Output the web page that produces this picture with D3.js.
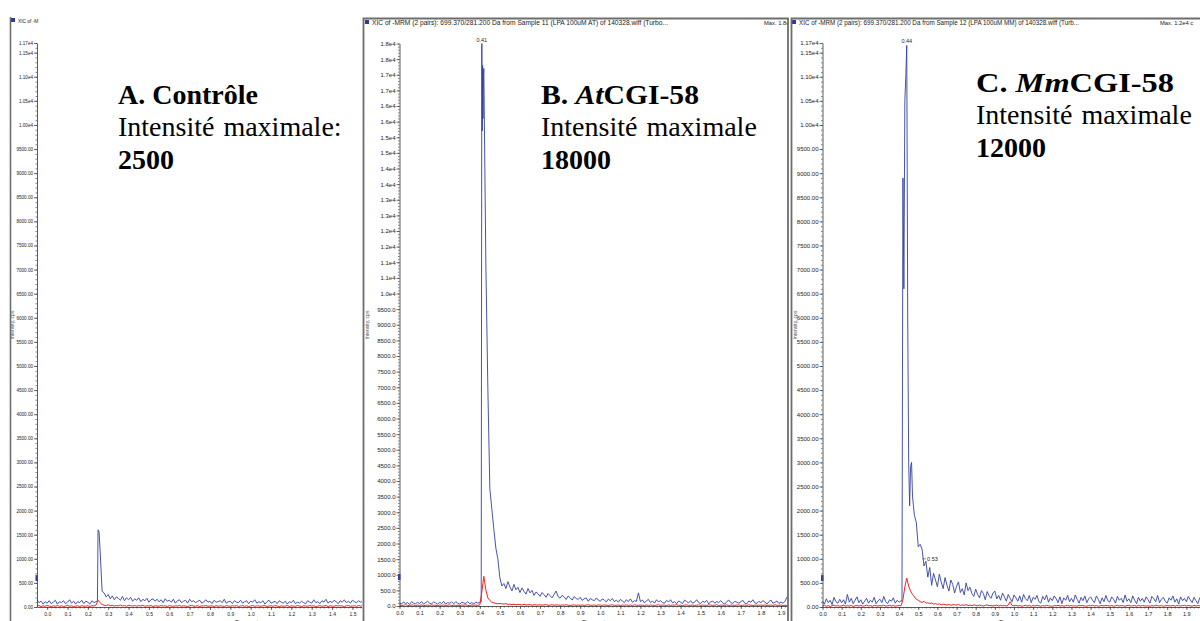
<!DOCTYPE html>
<html><head><meta charset="utf-8">
<script src="https://cdn.jsdelivr.net/npm/d3@7"></script>
<style>body{margin:0;background:#fff;} svg{display:block;}</style>
</head><body>
<svg id="chart" width="1200" height="621"></svg>
<script>
// ---------------- DATA ----------------
const STEP = 0.01; // sampling step (min)

// Panel A (Contrôle) – starts at -0.05 min
const blueA = [150,90,120,60,110,80,130,70,100,140,
  60,110,90,130,70,100,150,80,120,60,
  110,90,140,70,120,100,60,130,90,110,
  1600,1180,330,290,210,260,170,230,150,210,
  180,140,220,130,190,150,200,120,170,140,
  190,110,160,130,180,100,150,170,120,160,
  110,150,90,170,120,140,100,160,80,130,
  150,90,120,140,80,160,110,130,90,120,
  140,80,110,150,100,120,70,140,100,110,
  130,90,160,80,110,120,70,130,100,90,
  140,80,110,130,70,120,100,150,80,110,
  90,130,60,110,140,80,100,120,70,130,
  100,80,120,60,110,90,140,70,100,80,
  120,90,70,130,100,80,150,90,110,70,
  130,100,160,80,120,90,140,110,70,130,
  100,150,90,120,80,140,110,90,130,100,120];
const blueAPeak = [[0.247,130],[0.255,1560]];
const redA = [20,30,10,25,15,30,20,10,25,15,
  30,15,25,10,20,35,15,25,10,20,
  25,10,30,15,20,25,10,30,20,40,
  140,90,50,40,30,45,25,35,20,30,
  25,40,20,30,15,35,25,20,30,15,
  30,20,35,15,25,20,30,10,25,20,
  15,30,20,25,10,30,20,15,25,20,
  30,15,25,20,10,25,35,15,20,25,
  10,25,20,30,15,20,25,10,30,15,
  25,20,10,30,20,15,25,20,30,10,
  20,30,15,25,10,20,30,15,25,20,
  15,25,30,10,20,25,15,30,20,10,
  25,15,20,30,10,25,20,15,30,20,
  10,25,20,15,30,20,25,10,20,30,
  15,20,30,10,25,20,15,30,20,25,
  20,10,25,30,15,20,25,15,30,20,25];

// Panel B (AtCGI-58) – starts at 0.00 min
const blueB = [100,60,130,80,110,50,140,90,70,120,
  80,140,60,110,150,90,70,130,100,60,
  120,80,150,60,110,90,130,70,140,90,
  60,120,100,80,140,70,110,60,130,90,
  120,18000,17200,11000,7000,3750,3100,2450,1850,1500,
  900,640,720,560,780,610,480,690,520,600,
  430,580,470,380,560,420,500,340,450,390,
  310,430,360,280,400,330,260,370,480,300,
  250,340,290,210,320,260,190,300,240,210,
  280,180,230,260,150,240,200,170,260,190,
  150,230,190,130,220,170,240,140,190,120,
  210,160,110,200,140,230,120,170,150,420,
  140,190,100,170,210,110,160,90,200,130,
  170,110,90,180,130,200,100,140,70,160,
  120,80,190,140,100,170,90,130,200,110,
  80,150,120,180,70,130,160,90,140,110,
  170,100,60,140,190,110,80,150,120,90,
  140,180,90,70,160,120,200,100,80,150,
  110,170,130,60,140,190,90,120,160,80,
  130,90,150,290];
const blueBPeak = [[0.407,130],[0.412,15200],[0.414,17300],[0.416,15600],[0.418,16900]];
const redB = [30,15,25,40,20,10,35,25,15,30,
  20,35,10,25,30,15,40,20,25,10,
  30,20,35,15,25,40,10,30,20,25,
  15,30,25,40,20,10,35,25,30,20,
  35,450,950,520,260,180,120,100,80,70,
  80,70,60,75,50,60,45,55,40,50,
  45,35,50,30,40,45,25,40,35,30,
  40,25,35,45,20,30,40,25,35,30,
  20,35,30,40,25,15,30,35,20,30,
  25,35,15,30,40,20,25,30,15,35,
  30,20,35,25,15,30,40,20,25,30,
  15,30,25,35,20,30,15,40,25,20,
  30,25,15,35,20,30,25,15,30,40,
  20,30,25,15,35,20,30,25,40,20,
  25,15,30,35,20,25,30,15,25,35,
  20,30,25,15,35,30,20,25,40,15,
  30,25,20,35,15,30,25,20,30,35,
  15,25,30,20,35,25,15,30,20,25,
  30,20,35,15,25,30,20,40,25,20,
  30,15,25,20];

// Panel C (MmCGI-58) – starts at 0.00 min
const blueC = [120,60,170,90,140,50,200,110,80,160,
  90,150,60,260,100,180,70,140,210,90,
  150,60,120,180,80,140,100,200,70,130,
  160,90,220,110,70,150,120,190,80,140,
  100,130,8900,10500,11650,3000,2900,2300,1900,1750,
  1250,1300,1200,850,950,620,820,450,700,560,
  420,680,520,380,610,450,330,560,470,290,
  430,520,300,380,250,500,340,410,280,220,
  370,260,190,340,280,150,320,230,180,290,
  330,170,240,140,290,210,120,260,180,110,
  250,190,120,230,100,260,170,130,240,90,
  200,160,240,110,80,220,150,250,100,190,
  130,230,170,90,210,70,190,140,240,110,
  180,100,250,160,80,200,130,230,90,170,
  210,140,90,230,160,70,190,110,240,130,
  100,210,160,80,220,140,180,90,250,120,
  170,90,230,140,70,200,120,180,100,210,
  150,80,220,170,110,240,90,160,200,120,
  80,190,140,230,100,170,60,210,130,180,
  110,220,150,90,200,130,70,190,160,100,140];
const blueCPeak = [[0.415,120],[0.425,6600],[0.435,11000],[0.445,6000],[0.455,2100],[0.465,3000],[0.475,2100]];
const redC = [20,35,15,30,10,25,40,20,30,15,
  25,40,15,30,20,35,10,25,30,20,
  35,15,25,40,20,30,10,35,25,20,
  30,20,40,15,25,35,20,30,15,25,
  30,25,150,420,600,430,330,260,210,160,
  140,110,95,120,80,90,70,85,60,70,
  55,65,45,60,50,40,55,35,50,45,
  40,55,30,45,35,50,30,40,25,45,
  35,25,40,30,20,35,45,25,30,20,
  30,40,20,35,25,30,20,40,110,30,
  25,35,20,30,15,25,35,20,30,15,
  30,20,35,25,15,30,20,35,25,20,
  15,30,25,35,20,30,15,25,35,20,
  30,20,25,15,35,25,30,20,15,30,
  25,35,20,30,15,25,30,20,35,25,
  20,30,15,25,35,20,30,25,15,30,
  35,20,25,30,15,35,20,30,25,20,
  25,15,30,20,35,25,20,30,15,25,
  30,25,20,35,15,30,25,20,30,35,
  20,30,25,15,35,20,30,25,20,30,25];

// Tick values
const yTicksAC = [0,500,1000,1500,2000,2500,3000,3500,4000,4500,5000,5500,6000,6500,7000,7500,8000,8500,9000,9500,10000,10500,11000,11500,11700];
const yTicksB = [0,500,1000,1500,2000,2500,3000,3500,4000,4500,5000,5500,6000,6500,7000,7500,8000,8500,9000,9500,10000,10500,11000,11500,12000,12500,13000,13500,14000,14500,15000,15500,16000,16500,17000,17500,18000];
const xTicksA = [0,0.1,0.2,0.3,0.4,0.5,0.6,0.7,0.8,0.9,1.0,1.1,1.2,1.3,1.4,1.5,1.6];
const xTicksB = [0,0.1,0.2,0.3,0.4,0.5,0.6,0.7,0.8,0.9,1.0,1.1,1.2,1.3,1.4,1.5,1.6,1.7,1.8,1.9];
const xTicksC = [0,0.1,0.2,0.3,0.4,0.5,0.6,0.7,0.8,0.9,1.0,1.1,1.2,1.3,1.4,1.5,1.6,1.7,1.8,1.9,2.0];

// Texts
const headerB = "XIC of -MRM (2 pairs): 699.370/281.200 Da  from Sample 11 (LPA 100uM AT) of 140328.wiff (Turbo...";
const headerC = "XIC of -MRM (2 pairs): 699.370/281.200 Da  from Sample 12 (LPA 100uM MM) of 140328.wiff (Turb...";
const headerA = "XIC of -M";

// ---------------- DRAW ----------------
const svg = d3.select("#chart");
const BLUE = "#34409e", RED = "#f22424", AXIS = "#333";
const SANS = "'Liberation Sans', Arial, sans-serif";
const SERIF = "'Liberation Serif', 'Times New Roman', serif";

const fmtAC = v => v >= 10000 ? v.toExponential(2).replace("e+", "e") : v.toFixed(2);
const fmtB = v => v >= 10000 ? v.toExponential(1).replace("e+", "e") : v.toFixed(1);

function toPoints(vals, t0, extra) {
  return vals.map((v, i) => [t0 + i * STEP, v]).concat(extra).sort((a, b) => a[0] - b[0]);
}

function panel(cfg, idx) {
  const cid = "clip" + idx;
  svg.append("clipPath").attr("id", cid).append("rect")
    .attr("x", cfg.clip[0]).attr("y", cfg.clip[1]).attr("width", cfg.clip[2]).attr("height", cfg.clip[3]);
  const g = svg.append("g").attr("clip-path", `url(#${cid})`);
  g.append("rect").attr("x", cfg.clip[0]).attr("y", cfg.clip[1]).attr("width", cfg.clip[2]).attr("height", cfg.clip[3]).attr("fill", "#fff");

  const x = d3.scaleLinear().domain(cfg.xDomain).range(cfg.xRange);
  const y = d3.scaleLinear().domain(cfg.yDomain).range(cfg.yRange);
  const line = d3.line().x(d => x(d[0])).y(d => y(d[1]));

  const plot = g.append("g");
  plot.append("path").datum(toPoints(cfg.blue, cfg.t0, cfg.bluePeak))
    .attr("d", line).attr("fill", "none").attr("stroke", BLUE).attr("stroke-width", 0.9).attr("stroke-linejoin", "round");
  plot.append("path").datum(toPoints(cfg.red, cfg.t0, []))
    .attr("d", line).attr("fill", "none").attr("stroke", RED).attr("stroke-width", 1).attr("stroke-linejoin", "round");

  // y axis minor
  const yMinor = d3.range(0, cfg.yDomain[1] + 1, 100);
  g.append("g").attr("transform", `translate(${cfg.xRange[0]},0)`)
    .call(d3.axisLeft(y).tickValues(yMinor).tickSize(1.5).tickFormat(""))
    .call(a => a.select(".domain").remove())
    .call(a => a.selectAll("line").attr("stroke", AXIS).attr("stroke-width", 0.6));
  // y axis major
  const ya = g.append("g").attr("transform", `translate(${cfg.xRange[0]},0)`)
    .call(d3.axisLeft(y).tickValues(cfg.yTicks).tickFormat(cfg.yFmt).tickSize(3).tickSizeOuter(0).tickPadding(1));
  ya.select(".domain").attr("stroke", AXIS).attr("stroke-width", 0.8);
  ya.selectAll("line").attr("stroke", AXIS).attr("stroke-width", 0.7);
  ya.selectAll("text").attr("font-family", SANS).attr("font-size", cfg.yFont).attr("fill", "#222");

  // x axis minor
  const xMinor = d3.range(0, cfg.xDomain[1] + 0.001, 0.02);
  g.append("g").attr("transform", `translate(0,${cfg.yRange[0]})`)
    .call(d3.axisBottom(x).tickValues(xMinor).tickSize(1.5).tickFormat(""))
    .call(a => a.select(".domain").remove())
    .call(a => a.selectAll("line").attr("stroke", AXIS).attr("stroke-width", 0.6));
  const xa = g.append("g").attr("transform", `translate(0,${cfg.yRange[0]})`)
    .call(d3.axisBottom(x).tickValues(cfg.xTicks).tickFormat(d3.format(".1f")).tickSize(3).tickSizeOuter(0).tickPadding(2));
  xa.select(".domain").attr("stroke", AXIS).attr("stroke-width", 0.8);
  xa.selectAll("line").attr("stroke", AXIS).attr("stroke-width", 0.7);
  xa.selectAll("text").attr("font-family", SANS).attr("font-size", cfg.xFont).attr("fill", "#222");

  // blue marker on y axis
  g.append("rect").attr("x", cfg.xRange[0] - 1.5).attr("y", y(cfg.marker) - 3).attr("width", 2.5).attr("height", 6).attr("fill", BLUE);

  // axis titles
  g.append("text").attr("x", cfg.timeX).attr("y", 624).attr("text-anchor", "middle")
    .attr("font-family", SANS).attr("font-size", 6).attr("fill", "#333").text("Time, min");
  g.append("text").attr("transform", `translate(${cfg.intX},325) rotate(-90)`).attr("text-anchor", "middle")
    .attr("font-family", SANS).attr("font-size", 5).attr("fill", "#555").text("Intensity, cps");

  // header
  g.append("rect").attr("x", cfg.headX - 7).attr("y", cfg.headY - 4.5).attr("width", 4).attr("height", 4).attr("fill", "#2a3aa0");
  const ht = g.append("text").attr("x", cfg.headX).attr("y", cfg.headY).attr("font-family", SANS).attr("font-size", cfg.headFont)
    .attr("fill", "#222").text(cfg.header);
  if (cfg.headLen) ht.attr("textLength", cfg.headLen).attr("lengthAdjust", "spacingAndGlyphs");
  if (cfg.maxText) {
    g.append("text").attr("x", cfg.maxX).attr("y", cfg.headY).attr("font-family", SANS).attr("font-size", 5.8)
      .attr("fill", "#222").text(cfg.maxText);
  }
  // peak labels
  (cfg.peakLabels || []).forEach(p => {
    g.append("text").attr("x", x(p.t) + (p.dx || 0)).attr("y", y(p.v) + (p.dy || 0)).attr("text-anchor", p.anchor || "middle")
      .attr("font-family", SANS).attr("font-size", 5.5).attr("fill", "#222").text(p.label);
    if (p.leader) {
      g.append("line").attr("x1", x(p.t)).attr("x2", x(p.t) + p.dx - 1).attr("y1", y(p.v)).attr("y2", y(p.v) + p.dy - 2)
        .attr("stroke", "#444").attr("stroke-width", 0.6);
    }
  });
  return g;
}

panel({
  clip: [10, 17, 352, 604], xDomain: [-0.05, 1.547], xRange: [37, 362], yDomain: [0, 11700], yRange: [607, 43],
  t0: -0.05, blue: blueA, bluePeak: blueAPeak, red: redA,
  yTicks: yTicksAC, yFmt: fmtAC, yFont: 4.6, xTicks: xTicksA, xFont: 5,
  marker: 600, timeX: 248, intX: 14, headX: 18, headY: 22.5, headFont: 4.8, header: headerA
}, 0);

panel({
  clip: [363, 18, 425, 603], xDomain: [0, 1.93], xRange: [399.5, 787], yDomain: [0, 18000], yRange: [606, 43.5],
  t0: 0, blue: blueB, bluePeak: blueBPeak, red: redB,
  yTicks: yTicksB, yFmt: fmtB, yFont: 6, xTicks: xTicksB, xFont: 5.5,
  marker: 930, timeX: 595, intX: 369, headX: 372, headY: 24.5, headFont: 6.3, header: headerB, headLen: 296,
  maxText: "Max. 1.8e", maxX: 764,
  peakLabels: [{t: 0.41, v: 18000, label: "0.41", dy: -2}]
}, 1);

panel({
  clip: [791, 18, 409, 603], xDomain: [0, 2.0], xRange: [822.5, 1205.5], yDomain: [0, 11700], yRange: [607, 43],
  t0: 0, blue: blueC, bluePeak: blueCPeak, red: redC,
  yTicks: yTicksAC, yFmt: fmtAC, yFont: 6, xTicks: xTicksC, xFont: 5.5,
  marker: 600, timeX: 1012, intX: 797, headX: 799, headY: 24.5, headFont: 6.3, header: headerC, headLen: 280,
  maxText: "Max. 1.2e4 c", maxX: 1160,
  peakLabels: [{t: 0.44, v: 11650, label: "0.44", dy: -2},
               {t: 0.52, v: 1000, label: "0.53", dx: 5, dy: 2, anchor: "start", leader: true}]
}, 2);

// frames
const FR = "#6e6e6e";
svg.append("line").attr("x1", 10.5).attr("x2", 10.5).attr("y1", 17).attr("y2", 621).attr("stroke", FR).attr("stroke-width", 1.6);
svg.append("path").attr("d", "M363.5,621V18.5H788V621").attr("fill", "none").attr("stroke", FR).attr("stroke-width", 1.8);
svg.append("path").attr("d", "M791.5,621V18.5H1200").attr("fill", "none").attr("stroke", FR).attr("stroke-width", 1.8);

// annotations
function annot(xp, y0, parts, titleLen, line2, line3) {
  const t1 = svg.append("text").attr("x", xp).attr("y", y0).attr("font-family", SERIF).attr("font-size", 28).attr("font-weight", "bold").attr("fill", "#000");
  parts.forEach(p => t1.append("tspan").attr("font-style", p.i ? "italic" : "normal").text(p.s));
  if (titleLen) t1.attr("textLength", titleLen).attr("lengthAdjust", "spacingAndGlyphs");
  svg.append("text").attr("x", xp).attr("y", y0 + 32).attr("font-family", SERIF).attr("font-size", 28).attr("fill", "#000")
    .attr("word-spacing", 2).text(line2);
  svg.append("text").attr("x", xp).attr("y", y0 + 65).attr("font-family", SERIF).attr("font-size", 28).attr("font-weight", "bold").attr("fill", "#000").text(line3);
}
annot(118, 104, [{s: "A. Contrôle"}], 0, "Intensité maximale:", "2500");
annot(541, 104, [{s: "B. "}, {s: "At", i: true}, {s: "CGI-58"}], 158, "Intensité maximale", "18000");
annot(976, 92, [{s: "C. "}, {s: "Mm", i: true}, {s: "CGI-58"}], 198, "Intensité maximale", "12000");
</script>
</body></html>
